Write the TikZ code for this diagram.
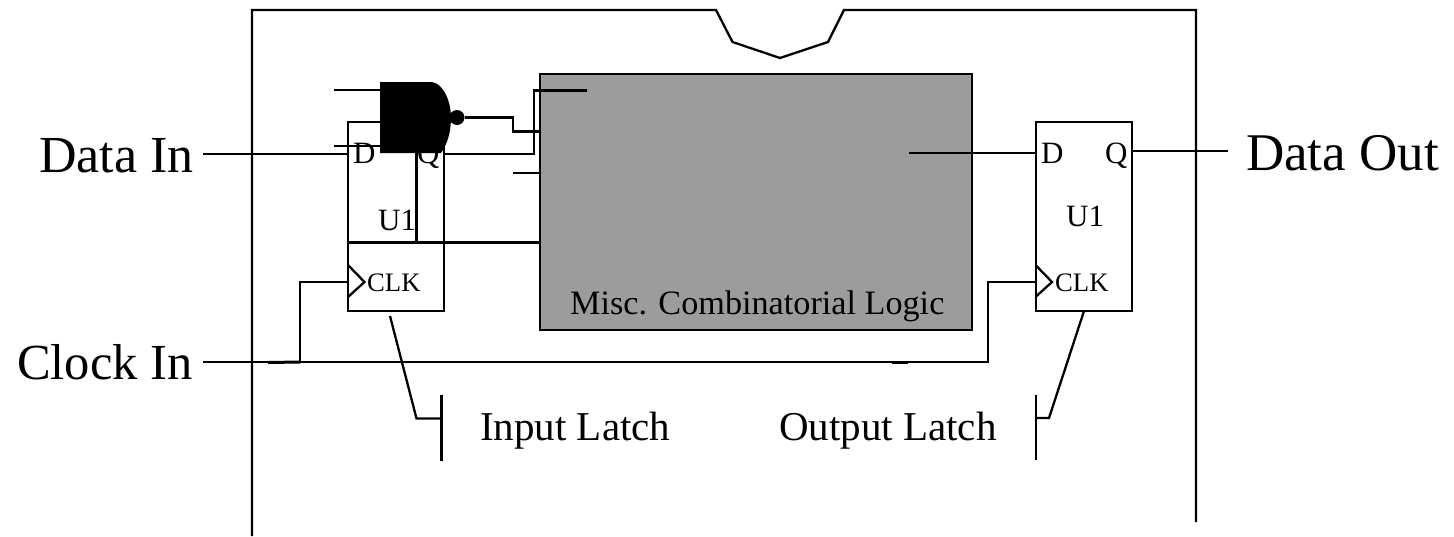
\documentclass[tikz,border=0pt]{standalone}
\usepackage{fontspec}
\setmainfont{Liberation Serif}
\begin{document}
\begin{tikzpicture}[x=1pt,y=-1pt,line width=2.3pt,line join=miter,
  big/.style={inner sep=0pt,anchor=base west,font=\fontsize{52}{52}\selectfont},
  mid/.style={inner sep=0pt,anchor=base west,font=\fontsize{41}{41}\selectfont},
  pin/.style={inner sep=0pt,anchor=base west,font=\fontsize{31}{31}\selectfont},
  clk/.style={inner sep=0pt,anchor=base west,font=\fontsize{26.7}{26.7}\selectfont},
  misc/.style={inner sep=0pt,anchor=base west,font=\fontsize{34.2}{34.2}\selectfont},
  latch/.style={draw,inner sep=0pt,outer sep=0pt,anchor=north west,minimum width=96pt,minimum height=189pt},
  logic/.style={draw,fill=black!39,inner sep=0pt,outer sep=0pt,anchor=north west,minimum width=432pt,minimum height=256pt},
  heavy/.style={line width=3pt}]
\useasboundingbox (0,0) rectangle (1454,536);
% package outline
\coordinate (fa) at (252,536);
\coordinate (fb) at (252,10);
\coordinate (fc) at (716,10);
\coordinate (fd) at (732.5,42);
\coordinate (fe) at (780,58);
\coordinate (ff) at (828,42);
\coordinate (fg) at (844,10);
\coordinate (fh) at (1196,10);
\coordinate (fi) at (1196,522);
\draw (fa) -- (fb) -- (fc) -- (fd) -- (fe) -- (ff) -- (fg) -- (fh) -- (fi);
% blocks
\node[logic] (logic) at (540,74) {};
\node[latch] (ua) at (348,122) {};
\node[latch] (ub) at (1036,122) {};
% texts
\node[big] (datain) at (38,172) {Data In};
\node[big,font=\fontsize{50.5}{50.5}\selectfont] (clockin) at (16,379) {Clock In};
\node[big,font=\fontsize{53}{53}\selectfont] (dataout) at (1245,170) {Data Out};
\node[pin] (da) at (352,163) {D};
\node[pin] (qa) at (416,163) {Q};
\node[pin] (ta) at (377,230) {U1};
\node[clk] (ca) at (366,291) {CLK};
\node[pin] (db) at (1040,163) {D};
\node[pin] (qb) at (1104,163) {Q};
\node[pin] (tb) at (1065,226) {U1};
\node[clk] (cb) at (1054,291) {CLK};
\node[misc] (ltext) at (569,314) {Misc. Combinatorial Logic};
\node[mid] (il) at (479,440) {Input Latch};
\node[mid] (ol) at (778,440) {Output Latch};
% NAND gate
\coordinate (ga) at (380,82);
\coordinate (gb) at (380,153);
\coordinate (gc) at (432,82);
\coordinate (gd) at (451,118);
\coordinate (ge) at (441,153);
\fill (ga) -- (gc) .. controls (444,84) and (451,102) .. (gd) .. controls (451,132) and (447,145) .. (ge) -- (gb) -- cycle;
\node[circle,fill=black,inner sep=0pt,outer sep=0pt,minimum size=15pt] (bub) at (457,117.5) {};
% gate wiring
\coordinate (i1) at (334,90);
\coordinate (i1e) at (380,90);
\coordinate (i2) at (334,145.7);
\coordinate (i2e) at (380,145.7);
\draw (i1) -- (i1e);
\draw (i2) -- (i2e);
\coordinate (o1) at (513,117.5);
\coordinate (o2) at (513,131.5);
\coordinate (o3) at (540,131.5);
\draw (bub.east) -- (o1) -- (o2) -- (o3);
\coordinate (qo) at (444,154.3);
\coordinate (q2) at (534,154.3);
\coordinate (q3) at (534,90.5);
\coordinate (q4) at (587,90.5);
\draw (qo) -- (q2) -- (q3) -- (q4);
\coordinate (s1) at (513,173);
\coordinate (s2) at (540,173);
\draw (s1) -- (s2);
\coordinate (v1) at (416,153);
\coordinate (v2) at (416,242);
\draw[heavy] (v1) -- (v2);
\coordinate (h1) at (347,242);
\coordinate (h2) at (540,242);
\draw[heavy] (h1) -- (h2);
% data lines
\coordinate (dina) at (203,154);
\coordinate (dinb) at (348,154);
\draw (dina) -- (dinb);
\coordinate (dla) at (909,152.7);
\coordinate (dlb) at (1036,152.7);
\draw (dla) -- (dlb);
\coordinate (doa) at (1132,150.7);
\coordinate (dob) at (1228,150.7);
\draw (doa) -- (dob);
% clock
\coordinate (ck0) at (203,362);
\coordinate (ck1) at (988,362);
\coordinate (ck2) at (988,282);
\coordinate (ck3) at (1036,282);
\draw (ck0) -- (ck1) -- (ck2) -- (ck3);
\coordinate (ck4) at (300,362);
\coordinate (ck5) at (300,282);
\coordinate (ck6) at (348,282);
\draw (ck4) -- (ck5) -- (ck6);
\coordinate (ck7) at (268,362.5);
\draw[heavy] (ck7) -- (ck4);
\coordinate (ck8) at (892,362.5);
\coordinate (ck9) at (908,362.5);
\draw[heavy] (ck8) -- (ck9);
% clock triangles
\coordinate (ta1) at (348,265);
\coordinate (ta2) at (364.5,282);
\coordinate (ta3) at (348,297);
\draw (ta1) -- (ta2) -- (ta3);
\coordinate (tb1) at (1036,265.5);
\coordinate (tb2) at (1052,282);
\coordinate (tb3) at (1036,296.5);
\draw (tb1) -- (tb2) -- (tb3);
% callouts
\coordinate (la) at (390,316);
\coordinate (lb) at (416.5,418.5);
\coordinate (lc) at (441.5,418.5);
\coordinate (ld) at (441.5,395);
\coordinate (le) at (441.5,461);
\draw (la) -- (lb) -- (lc);
\draw (ld) -- (le);
\coordinate (ra) at (1084,311);
\coordinate (rb) at (1049,418);
\coordinate (rc) at (1036,418);
\coordinate (rd) at (1036,395);
\coordinate (re) at (1036,460);
\draw (ra) -- (rb) -- (rc);
\draw (rd) -- (re);
\end{tikzpicture}
\end{document}
